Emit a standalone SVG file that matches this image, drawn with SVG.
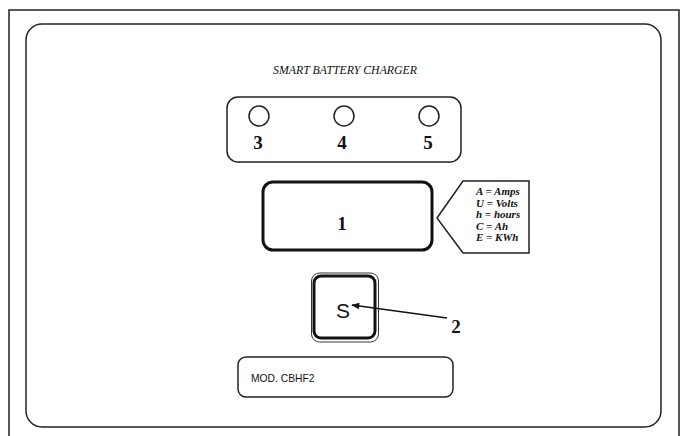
<svg xmlns="http://www.w3.org/2000/svg" width="686" height="436" viewBox="0 0 686 436">
<defs>
<style>
.ln{fill:none;stroke:#222;stroke-width:1.5}
.serif{font-family:"Liberation Serif","Times New Roman",serif}
.num{font-family:"Liberation Serif","Times New Roman",serif;font-weight:bold;font-size:19px;fill:#111;text-anchor:middle}
.leg{font-family:"Liberation Serif","Times New Roman",serif;font-weight:bold;font-style:italic;font-size:11px;fill:#111}
</style>
<marker id="ah" viewBox="0 0 10 10" refX="9" refY="5" markerWidth="9" markerHeight="8" orient="auto" markerUnits="userSpaceOnUse">
<path d="M0,1 L10,5 L0,9 Z" fill="#111"/>
</marker>
</defs>
<rect width="686" height="436" fill="#fff"/>
<g id="frame">
<path class="ln" d="M9,440 V10 H679 V440"/>
<rect class="ln" x="26" y="24" width="635" height="403" rx="16"/>
</g>
<g id="title">
<text class="serif" x="345" y="74" font-size="11.8" font-style="italic" text-anchor="middle" fill="#111">SMART BATTERY CHARGER</text>
</g>
<g id="leds">
<rect class="ln" x="227" y="97" width="234" height="65" rx="11"/>
<circle class="ln" cx="259" cy="116" r="10"/>
<circle class="ln" cx="344" cy="116" r="10"/>
<circle class="ln" cx="429" cy="116" r="10"/>
<text class="num" x="258" y="149">3</text>
<text class="num" x="342" y="149">4</text>
<text class="num" x="428" y="149">5</text>
</g>
<g id="display">
<rect x="263" y="182" width="169" height="68" rx="10" fill="none" stroke="#111" stroke-width="3"/>
<text class="num" x="342" y="230" font-size="20">1</text>
</g>
<g id="legend">
<path class="ln" d="M437,218 L463,181 H529 V253 H463 Z"/>
<text class="leg" x="476" y="195">A = Amps</text>
<text class="leg" x="476" y="206.5">U = Volts</text>
<text class="leg" x="476" y="218">h = hours</text>
<text class="leg" x="476" y="229.5">C = Ah</text>
<text class="leg" x="476" y="241">E = KWh</text>
</g>
<g id="button">
<rect x="311.5" y="273" width="67" height="69" rx="8" fill="none" stroke="#333" stroke-width="1"/>
<rect x="314" y="276" width="61" height="62" rx="7" fill="none" stroke="#111" stroke-width="3"/>
<text x="343" y="318" font-family="'Liberation Sans',Arial,sans-serif" font-size="21" text-anchor="middle" fill="#111">S</text>
<text class="num" x="456" y="333">2</text>
</g>
<g id="model">
<rect class="ln" x="238" y="357" width="215" height="40" rx="8"/>
<text x="251" y="382" font-family="'Liberation Sans',Arial,sans-serif" font-size="10.3" fill="#111">MOD. CBHF2</text>
</g>
<g id="connectors">
<line x1="447" y1="318" x2="352" y2="305" stroke="#111" stroke-width="1.5" marker-end="url(#ah)"/>
</g>
</svg>
